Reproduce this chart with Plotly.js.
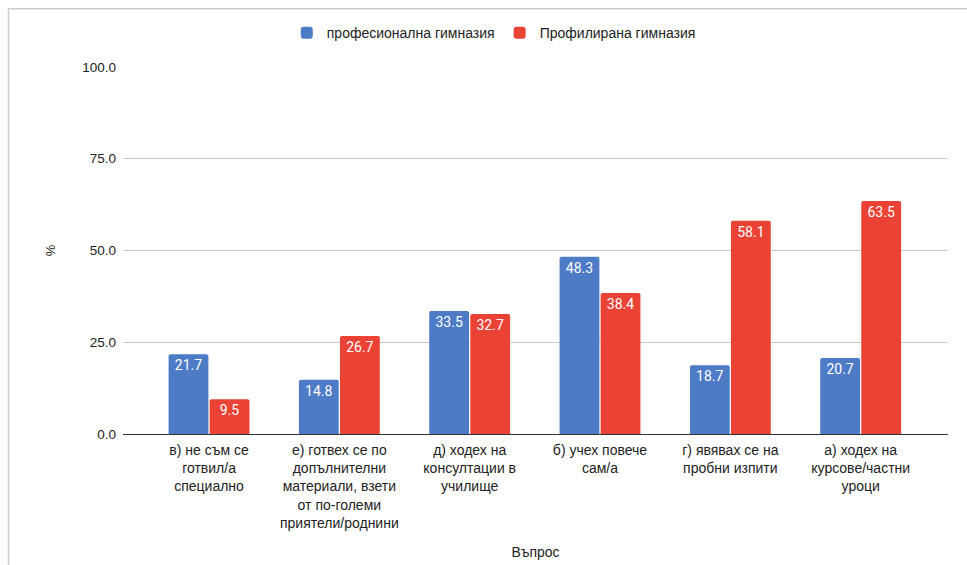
<!DOCTYPE html>
<html>
<head>
<meta charset="utf-8">
<script src="https://cdn.plot.ly/plotly-3.0.1.min.js"></script>
<style>html,body{margin:0;padding:0;background:#fff;}#chart{width:967px;height:565px;}</style>
</head>
<body>
<div id="chart"></div>
<script>
const categories = [
  "в) не съм се<br>готвил/а<br>специално",
  "е) готвех се по<br>допълнителни<br>материали, взети<br>от по-големи<br>приятели/роднини",
  "д) ходех на<br>консултации в<br>училище",
  "б) учех повече<br>сам/а",
  "г) явявах се на<br>пробни изпити",
  "а) ходех на<br>курсове/частни<br>уроци"
];
const seriesNames = ["професионална гимназия", "Профилирана гимназия"];
const profesionalna = [21.7, 14.8, 33.5, 48.3, 18.7, 20.7];
const profilirana = [9.5, 26.7, 32.7, 38.4, 58.1, 63.5];
const yTicks = [0, 25, 50, 75, 100];

const font = "Liberation Sans, Arial, sans-serif";
const idx = categories.map((_, i) => i);

function trace(name, vals, color) {
  return {
    type: "bar", name: name, x: idx, y: vals,
    marker: {color: color, cornerradius: 2},
    texttemplate: "%{y:.1f}", textposition: "inside", insidetextanchor: "end",
    textfont: {color: "#ffffff", size: 14, family: "Roboto, " + font},
    textangle: 0, hoverinfo: "skip"
  };
}

const data = [
  trace(seriesNames[0], profesionalna, "#4e7bc6"),
  trace(seriesNames[1], profilirana, "#ea4335")
];

const layout = {
  width: 967, height: 565,
  margin: {l: 123, r: 19, t: 67, b: 131},
  paper_bgcolor: "#fff", plot_bgcolor: "#fff",
  font: {family: font, size: 13, color: "#222"},
  barmode: "group", bargap: 0.37, bargroupgap: 0.03,
  showlegend: true,
  legend: {orientation: "h", x: 0.1985, xanchor: "left", y: 1.092, yanchor: "middle",
           bgcolor: "rgba(0,0,0,0)",
           font: {size: 14, color: "#222"}, traceorder: "normal"},
  xaxis: {
    range: [-0.66, 5.67], tickvals: idx, ticktext: categories,
    showgrid: false, zeroline: false, ticks: "", showline: false,
    ticklabelstandoff: 6,
    tickfont: {size: 14, color: "#222"},
    title: {text: "Въпрос", font: {size: 14, color: "#222"}, standoff: 17},
    automargin: false
  },
  yaxis: {
    range: [0, 100], tickvals: yTicks, tickformat: ".1f",
    showgrid: true, gridcolor: "#cccccc", gridwidth: 1,
    zeroline: true, zerolinecolor: "#333333", zerolinewidth: 1,
    ticks: "", showline: false, ticklabelstandoff: 6,
    tickfont: {size: 13.5, color: "#222"},
    title: {text: "%", font: {size: 13, color: "#222"}, standoff: 23},
    automargin: false
  },
  shapes: [{
    type: "rect", xref: "paper", yref: "paper",
    x0: -0.1388, x1: 1.2, y0: -0.5, y1: 1.159,
    line: {color: "#cccccc", width: 1.5}, layer: "below"
  }]
};

Plotly.newPlot("chart", data, layout, {displayModeBar: false, staticPlot: true});
</script>
</body>
</html>
